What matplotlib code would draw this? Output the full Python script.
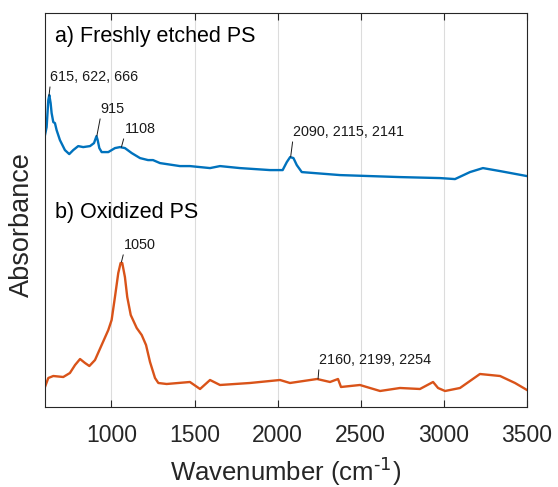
import matplotlib
matplotlib.use("Agg")
import matplotlib.pyplot as plt
import numpy as np

plt.rcParams['font.family'] = ['Liberation Sans', 'DejaVu Sans']

# (a) Freshly etched PS
wn_a = [600, 610, 620, 626, 634, 640, 650, 660, 670, 690, 720, 746, 770, 800, 830, 871, 895,
        910, 917, 927, 941, 981, 1021, 1051, 1081, 1122, 1172, 1220, 1250, 1292, 1412,
        1472, 1593, 1653, 1773, 1954, 2030, 2055, 2075, 2095, 2115, 2145, 2375, 2736, 2977,
        3067, 3157, 3235, 3338, 3500]
abs_a = [2.72, 2.80, 3.07, 3.12, 3.04, 2.94, 2.85, 2.84, 2.77, 2.67, 2.57, 2.53, 2.57, 2.61,
         2.60, 2.61, 2.64, 2.71, 2.67, 2.59, 2.55, 2.55, 2.59, 2.60, 2.59, 2.54, 2.49, 2.47,
         2.47, 2.44, 2.41, 2.41, 2.39, 2.41, 2.39, 2.37, 2.37, 2.45, 2.50, 2.49, 2.42,
         2.35, 2.32, 2.30, 2.29, 2.28, 2.35, 2.39, 2.36, 2.31]

# (b) Oxidized PS
wn_b = [600, 620, 650, 710, 750, 781, 811, 841, 867, 901, 941, 981, 1001, 1021, 1041, 1055,
        1065, 1081, 1095, 1116, 1152, 1182, 1208, 1232, 1262, 1282, 1332, 1402, 1472, 1533,
        1593, 1653, 1833, 2014, 2074, 2237, 2315, 2363, 2381, 2495, 2616, 2736, 2856, 2935,
        2965, 3007, 3097, 3217, 3338, 3428, 3500]
abs_b = [0.20, 0.29, 0.31, 0.30, 0.34, 0.42, 0.48, 0.44, 0.41, 0.47, 0.62, 0.77, 0.87, 1.10,
         1.34, 1.44, 1.44, 1.30, 1.10, 0.92, 0.79, 0.72, 0.62, 0.45, 0.29, 0.24, 0.23, 0.24,
         0.25, 0.18, 0.27, 0.22, 0.24, 0.27, 0.24, 0.28, 0.25, 0.28, 0.20, 0.22, 0.16, 0.19,
         0.18, 0.25, 0.19, 0.16, 0.19, 0.33, 0.31, 0.24, 0.17]

x_ticks = [1000, 1500, 2000, 2500, 3000, 3500]

# annotations: (text, point x, point y, text x, text y)
notes = [("615, 622, 666", 624, 3.11, 632, 3.23),
         ("915", 912, 2.71, 935, 2.91),
         ("1108", 1060, 2.60, 1078, 2.71),
         ("2090, 2115, 2141", 2078, 2.50, 2092, 2.68),
         ("1050", 1060, 1.45, 1075, 1.55),
         ("2160, 2199, 2254", 2243, 0.28, 2249, 0.40)]

fig = plt.figure(figsize=(5.58, 4.87), dpi=100)
ax = fig.add_axes([0.0806, 0.1643, 0.8638, 0.8087])

ax.plot(wn_a, abs_a, color='#0072BD', lw=1.7)
ax.plot(wn_b, abs_b, color='#D95319', lw=1.7)

ax.set_xlim(600, 3500)
ax.set_ylim(0, 3.94)
ax.set_xticks(x_ticks)
ax.set_yticks([])
ax.grid(axis='x', color='#dcdcdc', lw=0.8)
ax.set_axisbelow(True)
ax.tick_params(axis='x', direction='in', top=True, length=5, labelsize=16.5, colors='#262626', pad=12)
for s in ax.spines.values():
    s.set_color('#262626')
    s.set_linewidth(0.8)

ax.set_xlabel('Wavenumber (cm$^{\\text{-1}}$)', fontsize=18.5, color='#262626', labelpad=6)
ax.set_ylabel('Absorbance', fontsize=19.5, color='#262626')
ax.yaxis.set_label_coords(-0.02, 0.462)

ax.text(660, 3.65, 'a) Freshly etched PS', fontsize=15.5, color='black')
ax.text(660, 1.89, 'b) Oxidized PS', fontsize=15.5, color='black')

for t, px, py, tx, ty in notes:
    ax.annotate(t, xy=(px, py), xytext=(tx, ty), fontsize=10.4, ha='left', va='bottom',
                color='#1a1a1a',
                arrowprops=dict(arrowstyle='-', color='#1a1a1a', lw=0.7, shrinkA=0, shrinkB=0,
                                relpos=(0, 0)))

fig.savefig('out.png', dpi=100)
